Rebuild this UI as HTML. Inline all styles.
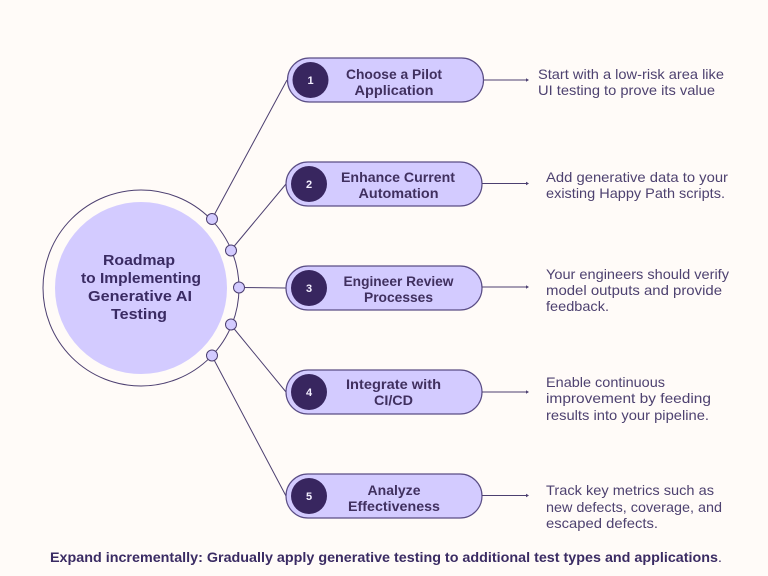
<!DOCTYPE html>
<html><head><meta charset="utf-8"><style>
html,body{margin:0;padding:0;background:#fffbf8}
svg{display:block}
text{font-family:"Liberation Sans",sans-serif}
.h{font-size:13.5px;font-weight:bold;fill:#40305f;text-anchor:middle}
.c{font-size:15px;font-weight:bold;fill:#3a2b63;text-anchor:middle}
.d{font-size:14px;fill:#4e4270}
.n{font-size:11px;font-weight:bold;fill:#f4f0ff;text-anchor:middle}
.l{stroke:#4c3f70;stroke-width:1;fill:none}
.p{fill:#d3cbff;stroke:#5a4d85;stroke-width:1.2}
.s{fill:#d3cbff;stroke:#4c3f70;stroke-width:1}
.a{fill:#4c3f70}
</style></head><body>
<svg width="768" height="576" viewBox="0 0 768 576" xmlns="http://www.w3.org/2000/svg">
<rect width="768" height="576" fill="#fffbf8"/>
<circle cx="141" cy="288" r="98" class="l"/>
<circle cx="141" cy="288" r="86" fill="#d3cbff"/>
<path class="l" d="M212 219L287 80M231 250L286 184M239 287.500L286 288M231 325L286 392M212 356L286 496"/>
<rect x="287.500" y="58" width="196" height="44" rx="22" class="p"/>
<rect x="286" y="162" width="196" height="44" rx="22" class="p"/>
<rect x="286" y="266" width="196" height="44" rx="22" class="p"/>
<rect x="286" y="370" width="196" height="44" rx="22" class="p"/>
<rect x="286" y="474" width="196" height="44" rx="22" class="p"/>
<circle cx="310.500" cy="80" r="18" fill="#38265f"/>
<circle cx="309" cy="184" r="18" fill="#38265f"/>
<circle cx="309" cy="288" r="18" fill="#38265f"/>
<circle cx="309" cy="392" r="18" fill="#38265f"/>
<circle cx="309" cy="496" r="18" fill="#38265f"/>
<text x="310.500" y="84" class="n">1</text>
<text x="309" y="188" class="n">2</text>
<text x="309" y="292" class="n">3</text>
<text x="309" y="396" class="n">4</text>
<text x="309" y="500" class="n">5</text>
<circle cx="212" cy="219" r="5.500" class="s"/>
<circle cx="231" cy="250.500" r="5.500" class="s"/>
<circle cx="239" cy="287.500" r="5.500" class="s"/>
<circle cx="231" cy="324.500" r="5.500" class="s"/>
<circle cx="212" cy="355.500" r="5.500" class="s"/>
<path class="l" d="M484 80H528M482 183.500H528M482 287H528M482 392H528M482 495.500H528"/>
<path class="a" d="M529 80l-3-1.800v3.600zM529 183.500l-3-1.800v3.600zM529 287l-3-1.800v3.600zM529 392l-3-1.800v3.600zM529 495.500l-3-1.800v3.600z"/>
<text x="139" y="265" class="c" textLength="72" lengthAdjust="spacingAndGlyphs">Roadmap</text>
<text x="141" y="283" class="c" textLength="120" lengthAdjust="spacingAndGlyphs">to Implementing</text>
<text x="140" y="301" class="c" textLength="104" lengthAdjust="spacingAndGlyphs">Generative AI</text>
<text x="139" y="319" class="c" textLength="56" lengthAdjust="spacingAndGlyphs">Testing</text>
<text x="394" y="79" class="h" textLength="96" lengthAdjust="spacingAndGlyphs">Choose a Pilot</text>
<text x="394" y="95" class="h" textLength="79" lengthAdjust="spacingAndGlyphs">Application</text>
<text x="398" y="182" class="h" textLength="114" lengthAdjust="spacingAndGlyphs">Enhance Current</text>
<text x="398.500" y="198" class="h" textLength="80" lengthAdjust="spacingAndGlyphs">Automation</text>
<text x="398.500" y="286" class="h" textLength="110" lengthAdjust="spacingAndGlyphs">Engineer Review</text>
<text x="398.500" y="302" class="h" textLength="69" lengthAdjust="spacingAndGlyphs">Processes</text>
<text x="393.500" y="389" class="h" textLength="95" lengthAdjust="spacingAndGlyphs">Integrate with</text>
<text x="393.500" y="405" class="h" textLength="39" lengthAdjust="spacingAndGlyphs">CI/CD</text>
<text x="394" y="495" class="h" textLength="53" lengthAdjust="spacingAndGlyphs">Analyze</text>
<text x="394" y="511" class="h" textLength="92" lengthAdjust="spacingAndGlyphs">Effectiveness</text>
<text x="538" y="79" class="d" textLength="186" lengthAdjust="spacingAndGlyphs">Start with a low-risk area like</text>
<text x="538" y="95" class="d" textLength="177" lengthAdjust="spacingAndGlyphs">UI testing to prove its value</text>
<text x="546" y="182" class="d" textLength="182" lengthAdjust="spacingAndGlyphs">Add generative data to your</text>
<text x="546" y="198" class="d" textLength="179" lengthAdjust="spacingAndGlyphs">existing Happy Path scripts.</text>
<text x="546" y="279" class="d" textLength="183" lengthAdjust="spacingAndGlyphs">Your engineers should verify</text>
<text x="546" y="295" class="d" textLength="176" lengthAdjust="spacingAndGlyphs">model outputs and provide</text>
<text x="546" y="311" class="d" textLength="63" lengthAdjust="spacingAndGlyphs">feedback.</text>
<text x="546" y="387" class="d" textLength="119" lengthAdjust="spacingAndGlyphs">Enable continuous</text>
<text x="546" y="403" class="d" textLength="165" lengthAdjust="spacingAndGlyphs">improvement by feeding</text>
<text x="546" y="420" class="d" textLength="163" lengthAdjust="spacingAndGlyphs">results into your pipeline.</text>
<text x="546" y="495" class="d" textLength="168" lengthAdjust="spacingAndGlyphs">Track key metrics such as</text>
<text x="546" y="512" class="d" textLength="176" lengthAdjust="spacingAndGlyphs">new defects, coverage, and</text>
<text x="546" y="528" class="d" textLength="112" lengthAdjust="spacingAndGlyphs">escaped defects.</text>
<text x="50" y="562" font-size="14" font-weight="bold" fill="#3a2b63" textLength="668" lengthAdjust="spacingAndGlyphs">Expand incrementally: Gradually apply generative testing to additional test types and applications</text>
<text x="718" y="562" font-size="14" fill="#3a2b63">.</text>
</svg>
</body></html>
